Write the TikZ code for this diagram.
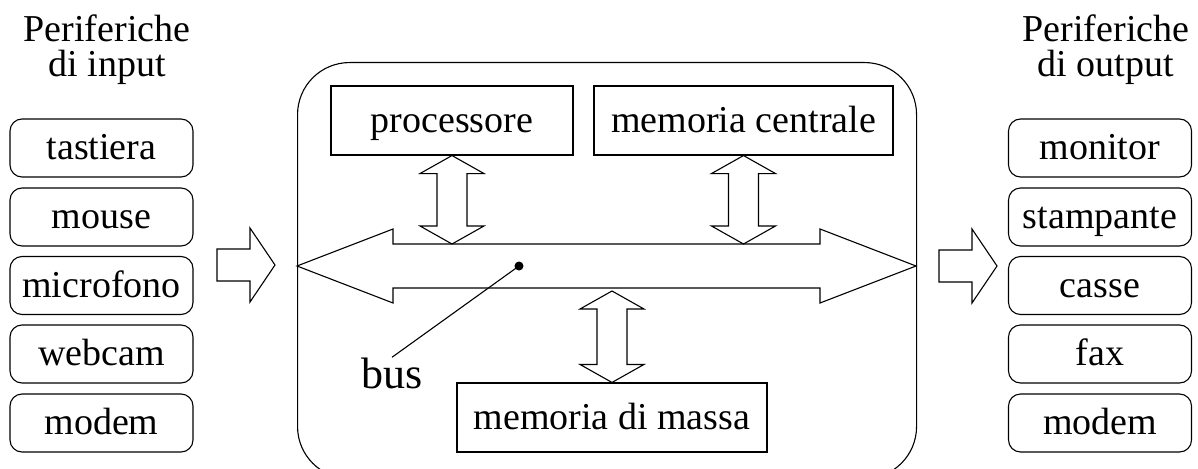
\documentclass[tikz,border=0pt]{standalone}
\usepackage{fontspec}
\setmainfont{Liberation Serif}
\usetikzlibrary{calc}
\tikzset{
  ln/.style={line width=1.1pt},
  dev/.style={ln, draw, rounded corners=12pt, minimum width=183pt, minimum height=58pt,
    inner sep=0pt, text height=27pt, text depth=4pt, font=\fontsize{38}{40}\selectfont},
  unit/.style={ln, draw, rectangle, minimum height=69pt, inner sep=0pt,
    text height=27pt, text depth=4pt, font=\fontsize{38}{40}\selectfont},
  title/.style={inner sep=0pt, anchor=base, font=\fontsize{38}{40}\selectfont},
  blockarrow/.style={ln, draw, fill=white, line join=miter},
}
\newcommand\vdarrow[2]{\draw[blockarrow] let \p1=(#1), \p2=(#2) in
  (\x1,\y1) -- (\x1+32pt,\y1-18pt) -- (\x1+15pt,\y1-18pt) -- (\x1+15pt,\y2+18pt)
  -- (\x1+32pt,\y2+18pt) -- (\x1,\y2) -- (\x1-32pt,\y2+18pt) -- (\x1-15pt,\y2+18pt)
  -- (\x1-15pt,\y1-18pt) -- (\x1-32pt,\y1-18pt) -- cycle;}
\newcommand\hsarrow[2]{\draw[blockarrow] let \p1=(#1), \p2=(#2) in
  (\x1,\y1+16pt) -- (\x2-25pt,\y1+16pt) -- (\x2-25pt,\y1+37pt) -- (\x2,\y1)
  -- (\x2-25pt,\y1-37pt) -- (\x2-25pt,\y1-16pt) -- (\x1,\y1-16pt) -- cycle;}
\begin{document}
\begin{tikzpicture}[x=1pt,y=1pt]
\clip (0,0) rectangle (1198,-468);

% titles
\node[title] (tinA) at (107,-42) {Periferiche};
\node[title] (tinB) at (107,-77) {di input};
\node[title] (toutA) at (1106,-42) {Periferiche};
\node[title] (toutB) at (1106,-77) {di output};

% input devices
\node[dev] (tastiera) at (101.5,-148) {tastiera};
\node[dev] (mouse) at (101.5,-217) {mouse};
\node[dev] (microfono) at (101.5,-285.5) {microfono};
\node[dev] (webcam) at (101.5,-354) {webcam};
\node[dev] (modemin) at (101.5,-423) {modem};

% output devices
\node[dev] (monitor) at (1100,-148) {monitor};
\node[dev] (stampante) at (1100,-217) {stampante};
\node[dev] (casse) at (1100,-285.5) {casse};
\node[dev] (fax) at (1100,-354) {fax};
\node[dev] (modemout) at (1100,-423) {modem};

% system box
\node[ln, draw, rounded corners=52pt, minimum width=619pt, minimum height=416pt,
  inner sep=0pt, anchor=north west] (sys) at (297,-62) {};

% units
\node[unit, minimum width=242pt] (proc) at (452,-120.5) {processore};
\node[unit, minimum width=299pt] (memc) at (743.5,-120.5) {memoria centrale};
\node[unit, minimum width=310pt] (mass) at (612,-417.5) {memoria di massa};

% bus
\coordinate (busL) at (297,-266);
\coordinate (busR) at (916,-266);
\coordinate (busTop) at (0,-244);
\coordinate (busBot) at (0,-291);
\draw[blockarrow] let \p1=(busL), \p2=(busR) in
  (\x1,\y1) -- (\x1+96pt,\y1+37pt) -- (\x1+96pt,\y1+22pt) -- (\x2-96pt,\y1+22pt)
  -- (\x2-96pt,\y1+37pt) -- (\x2,\y2) -- (\x2-96pt,\y2-37pt) -- (\x2-96pt,\y2-22pt)
  -- (\x1+96pt,\y2-22pt) -- (\x1+96pt,\y1-37pt) -- cycle;

% unit <-> bus arrows
\vdarrow{proc.south}{proc.south |- busTop}
\vdarrow{memc.south}{memc.south |- busTop}
\vdarrow{mass.north |- busBot}{mass.north}

% bus label
\coordinate (busdot) at (519,-266);
\fill (busdot) circle (4.5pt);
\node[inner sep=0pt, anchor=base, font=\fontsize{44}{46}\selectfont] (buslbl) at (392,-388) {bus};
\draw[ln] (busdot) -- (buslbl.north);

% input / output arrows
\coordinate (inA) at (217,-265);
\coordinate (inB) at (275,-265);
\coordinate (outA) at (939,-266);
\coordinate (outB) at (997,-266);
\hsarrow{inA}{inB}
\hsarrow{outA}{outB}
\end{tikzpicture}
\end{document}
